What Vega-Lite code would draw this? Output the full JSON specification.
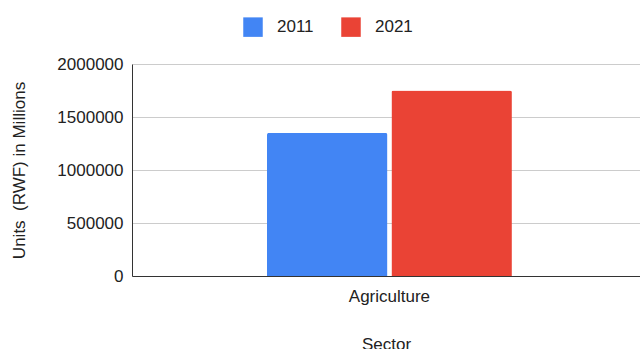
{
  "$schema": "https://vega.github.io/schema/vega-lite/v6.json",
  "autosize": {"type": "none"},
  "width": 508,
  "height": 212,
  "padding": {"left": 132, "top": 64, "right": 0, "bottom": 73},
  "background": "white",
  "data": {
    "values": [
      {"Sector": "Agriculture", "Year": "2011", "Units": 1350000},
      {"Sector": "Agriculture", "Year": "2021", "Units": 1750000}
    ]
  },
  "mark": {"type": "bar", "cornerRadiusTopLeft": 2, "cornerRadiusTopRight": 2},
  "encoding": {
    "x": {
      "field": "Sector",
      "type": "nominal",
      "scale": {"paddingInner": 0, "paddingOuter": 0.537, "align": 0.513},
      "axis": {
        "title": "Sector",
        "labelAngle": 0,
        "ticks": false,
        "labelPadding": 12,
        "titlePadding": 32,
        "domainColor": "#333333",
        "domainWidth": 1
      }
    },
    "xOffset": {
      "field": "Year",
      "type": "nominal",
      "scale": {"paddingInner": 0.032, "paddingOuter": 0}
    },
    "y": {
      "field": "Units",
      "type": "quantitative",
      "scale": {"domain": [0, 2000000]},
      "axis": {
        "title": "Units \u00a0(RWF) in Millions",
        "values": [0, 500000, 1000000, 1500000, 2000000],
        "format": "d",
        "ticks": false,
        "labelPadding": 9,
        "titlePadding": 28,
        "domain": true,
        "domainColor": "#333333",
        "domainWidth": 1,
        "gridColor": "#cccccc",
        "gridWidth": 1
      }
    },
    "color": {
      "field": "Year",
      "type": "nominal",
      "scale": {"domain": ["2011", "2021"], "range": ["#4285F4", "#EA4335"]},
      "legend": {
        "title": null,
        "orient": "none",
        "direction": "horizontal",
        "legendX": 111,
        "legendY": -47,
        "symbolType": "square",
        "symbolSize": 380,
        "symbolStrokeWidth": 0,
        "labelOffset": 14,
        "columnPadding": 27,
        "labelFontSize": 17,
        "labelFont": "Liberation Sans",
        "labelColor": "#222222"
      }
    }
  },
  "config": {
    "view": {"stroke": null},
    "font": "Liberation Sans",
    "axis": {
      "labelFont": "Liberation Sans",
      "titleFont": "Liberation Sans",
      "labelFontSize": 17,
      "titleFontSize": 17,
      "titleFontWeight": "normal",
      "labelColor": "#222222",
      "titleColor": "#222222"
    },
    "axisX": {"grid": false}
  }
}
